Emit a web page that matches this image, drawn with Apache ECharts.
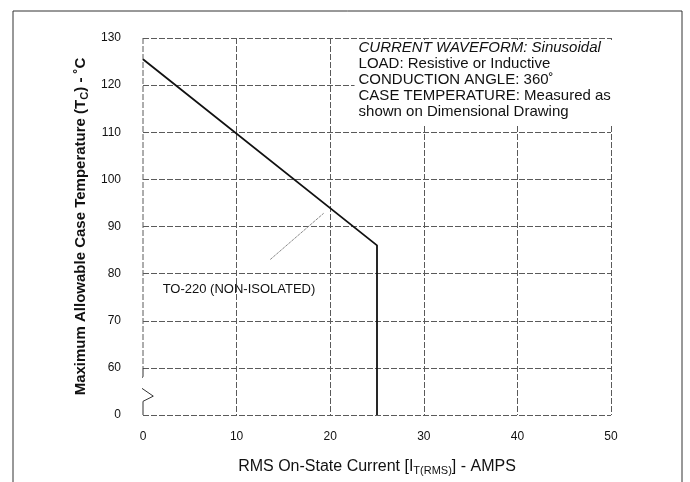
<!DOCTYPE html>
<html>
<head>
<meta charset="utf-8">
<script src="https://cdn.jsdelivr.net/npm/echarts@6/dist/echarts.min.js"></script>
<style>
html,body{margin:0;padding:0;background:#fff;}
#chart{width:690px;height:482px;}
</style>
</head>
<body>
<div id="chart"></div>
<script>
// ---- data ----
const currentA = [0, 25, 25];            // RMS on-state current (A)
const caseTempC = [125.5, 86, 0];        // max allowable case temperature (°C)
const xTickLabels = ['0', '10', '20', '30', '40', '50'];
const yTickLabels = ['0', '60', '70', '80', '90', '100', '110', '120', '130'];
const leaderX = [13.6, 19.3];
const leaderY = [83, 92.8];
const axisUpperX = [0, 0];
const axisUpperY = [130, 60];
const breakAxisX = [0, 0, -0.95, 1.1, 0, 0];
const breakAxisY = [60, 58.1, 56.8, 54, 52.9, 50];
const annotationLines = [
  'CURRENT WAVEFORM: Sinusoidal',
  'LOAD: Resistive or Inductive',
  'CONDUCTION ANGLE: 360˚',
  'CASE TEMPERATURE: Measured as',
  'shown on Dimensional Drawing'
];
const packageLabel = 'TO-220 (NON-ISOLATED)';

// broken axis: values below 60 sit at the axis floor (shown as "0")
const AXIS_FLOOR = 50;
function mapY(v) { return v < 60 ? AXIS_FLOOR + v : v; }

const FONT = '"Liberation Sans", Arial, Helvetica, sans-serif';
const chart = echarts.init(document.getElementById('chart'), null, {renderer: 'canvas'});

const gridLine = {show: true, lineStyle: {color: '#5a5a5a', width: 1, type: [6, 2]}};

const option = {
  backgroundColor: '#fff',
  animation: false,
  grid: {left: 143, right: 79, top: 38, bottom: 67},
  xAxis: {
    type: 'value', min: 0, max: 50, interval: 10,
    axisLine: {show: false},
    axisTick: {show: false},
    axisLabel: {
      margin: 16, color: '#111', fontSize: 12, fontFamily: FONT,
      formatter: v => xTickLabels[Math.round(v / 10)]
    },
    splitLine: Object.assign({showMinLine: false}, gridLine),
    name: '{n|RMS On-State Current [I}{s|T(RMS)}{n|] - AMPS}',
    nameLocation: 'middle', nameGap: 42,
    nameTextStyle: {
      rich: {
        n: {fontSize: 16, color: '#111', fontFamily: FONT},
        s: {fontSize: 11, color: '#111', fontFamily: FONT, padding: [8, 0, 0, 0]}
      }
    }
  },
  yAxis: {
    type: 'value', min: 50, max: 130, interval: 10,
    axisLine: {show: false},
    axisTick: {show: false},
    axisLabel: {
      margin: 22, color: '#111', fontSize: 12, fontFamily: FONT,
      formatter: v => yTickLabels[Math.round((v - 50) / 10)]
    },
    splitLine: gridLine,
    name: '{n|Maximum Allowable Case Temperature (T}{s|C}{n|) - ˚C}',
    nameLocation: 'middle', nameGap: 41,
    nameTextStyle: {
      rich: {
        n: {fontSize: 15, fontWeight: 'bold', color: '#111', fontFamily: FONT},
        s: {fontSize: 11, fontWeight: 'bold', color: '#111', fontFamily: FONT, padding: [7, 0, 0, 0]}
      }
    }
  },
  series: [
    {
      type: 'line', name: 'axisUpper', silent: true, symbol: 'none',
      data: axisUpperX.map((x, i) => [x, axisUpperY[i]]),
      lineStyle: {color: '#5a5a5a', width: 1, type: [6, 2]}
    },
    {
      type: 'line', name: 'axisBreak', silent: true, clip: false,
      symbol: 'none',
      data: breakAxisX.map((x, i) => [x, breakAxisY[i]]),
      lineStyle: {color: '#333', width: 1}
    },
    {
      type: 'line', name: 'leader', silent: true, symbol: 'none',
      data: leaderX.map((x, i) => [x, leaderY[i]]),
      lineStyle: {color: '#888', width: 1, type: [3, 1]}
    },
    {
      type: 'line', name: 'TO-220', symbol: 'none', silent: true,
      data: currentA.map((x, i) => [x, mapY(caseTempC[i])]),
      lineStyle: {color: '#111', width: 1.8}
    }
  ]
};
chart.setOption(option);

// annotations placed in data coordinates
const annoPos = chart.convertToPixel({gridIndex: 0}, [22.6, 129.6]);
const pkgPos = chart.convertToPixel({gridIndex: 0}, [2.1, 76.7]);
chart.setOption({
  graphic: [
    {
      type: 'text', x: annoPos[0], y: annoPos[1], z: 10,
      style: {
        text: annotationLines.map((t, i) => (i === 0 ? '{i|' : '{n|') + t + '}').join('\n'),
        backgroundColor: '#fff',
        padding: [0, 4, 6, 4],
        rich: {
          i: {fontSize: 15, fontStyle: 'italic', fill: '#111', fontFamily: FONT, lineHeight: 16},
          n: {fontSize: 15, fill: '#111', fontFamily: FONT, lineHeight: 16}
        }
      }
    },
    {
      type: 'text', x: pkgPos[0], y: pkgPos[1], z: 10,
      style: {
        text: packageLabel, fontSize: 13, fill: '#111', fontFamily: FONT,
        verticalAlign: 'middle'
      }
    },
    {
      type: 'rect', z: -1, silent: true,
      shape: {x: 13, y: 11, width: 669, height: 500},
      style: {fill: 'none', stroke: '#333', lineWidth: 1}
    }
  ]
});
</script>
</body>
</html>
